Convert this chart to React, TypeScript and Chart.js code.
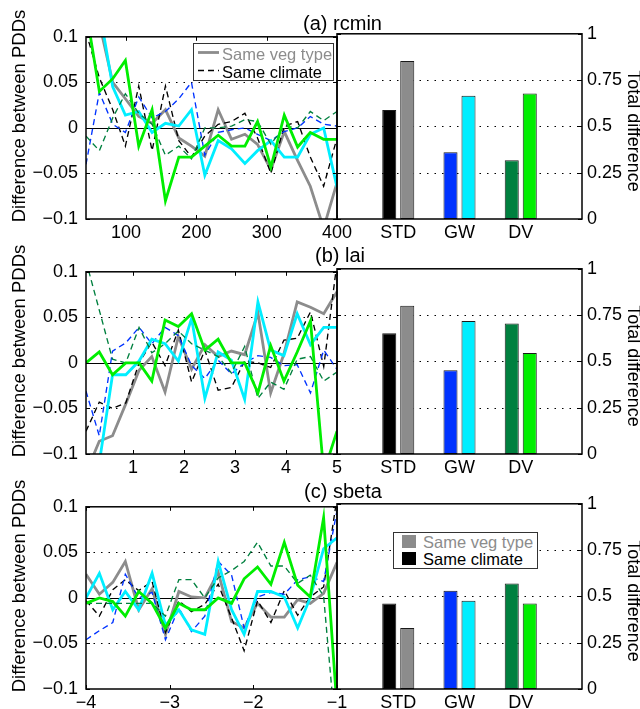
import React, { useEffect, useRef } from 'react';
import { Chart, registerables } from 'chart.js';

Chart.register(...registerables);

const FONT = '"Liberation Sans", Arial, Helvetica, sans-serif';

// ---------- colours ----------
const C_GRAY = '#8c8c8c';
const C_BLACK = '#000000';
const C_BLUE = '#0033ff';
const C_CYAN = '#00eeff';
const C_DKGREEN = '#00803f';
const C_GREEN = '#00ee00';

// ---------- tick values / labels ----------
const yDiffTicks = [-0.1, -0.05, 0, 0.05, 0.1];
const yDiffLabels = ['\u22120.1', '\u22120.05', '0', '0.05', '0.1'];
const yTotTicks = [0, 0.25, 0.5, 0.75, 1];
const yTotLabels = ['0', '0.25', '0.5', '0.75', '1'];
const barCategories = ['STD', 'GW', 'DV'];

const xRcminTicks = [100, 200, 300, 400];
const xRcminLabels = ['100', '200', '300', '400'];
const xLaiTicks = [1, 2, 3, 4, 5];
const xLaiLabels = ['1', '2', '3', '4', '5'];
const xSbetaTicks = [-4, -3, -2, -1];
const xSbetaLabels = ['\u22124', '\u22123', '\u22122', '\u22121'];

// ---------- (a) rcmin ----------
const xRcmin = [43, 62, 81, 99, 118, 137, 156, 175, 193, 212, 231, 250, 269, 287, 306, 325, 344, 362, 381, 400];
const rcminStdVeg = [0.16, 0.115, 0.05, 0.032, 0.0125, 0.005, 0.02, -0.011, -0.02, -0.031, 0.02, -0.0125, -0.007, -0.018, -0.046, -0.004, -0.036, -0.064, -0.11, -0.06];
const rcminStdClimate = [0.105, 0.055, 0.02, -0.02, 0.046, -0.025, 0.046, -0.014, -0.032, -0.009, 0.004, 0.007, 0.016, -0.011, -0.05, 0.002, 0.007, -0.032, -0.064, -0.011];
const rcminGwClimate = [-0.04, 0.039, 0.004, -0.005, 0.034, 0.011, 0.018, 0.032, 0.05, -0.03, -0.005, -0.002, 0, -0.007, -0.014, -0.004, 0, 0.0125, 0.004, 0.002];
const rcminGwVeg = [0.2, 0.13, 0.045, 0.014, 0.018, -0.005, 0.005, 0.002, 0.02, -0.052, -0.014, -0.023, -0.039, -0.025, -0.014, -0.032, -0.032, -0.007, 0, -0.065];
const rcminDvClimate = [-0.009, -0.025, 0.011, 0.0375, 0.016, 0.004, -0.03, -0.02, -0.034, 0, 0, 0.002, 0.009, 0.007, -0.018, 0.002, 0, 0.018, 0.008, 0.018];
const rcminDvVeg = [0.13, 0.04, 0.054, 0.074, -0.02, 0.02, -0.08, -0.032, -0.032, -0.02, -0.008, -0.02, -0.02, 0.007, -0.043, 0.014, -0.021, -0.005, -0.0125, -0.0125];
const rcminTotClimate = [0.588, 0.36, 0.317];
const rcminTotVeg = [0.853, 0.665, 0.677];

// ---------- (b) lai ----------
const xLai = [0.08, 0.34, 0.6, 0.86, 1.12, 1.37, 1.63, 1.89, 2.15, 2.41, 2.67, 2.93, 3.19, 3.45, 3.7, 3.96, 4.22, 4.48, 4.74, 5.0];
const laiStdVeg = [-0.121, -0.086, -0.08, -0.045, -0.008, 0.007, -0.032, 0.029, -0.007, 0.02, 0.007, 0.013, 0.009, 0.055, -0.033, 0.01, 0.067, 0.061, 0.054, 0.078];
const laiStdClimate = [-0.075, -0.043, -0.05, -0.044, 0, 0.023, -0.003, 0.036, -0.021, 0.014, -0.03, -0.027, 0.002, 0, -0.005, 0.025, 0.027, 0.056, -0.004, 0.11];
const laiGwClimate = [-0.031, -0.08, 0.013, 0.022, 0.039, 0.021, 0.039, 0.03, -0.003, -0.017, 0.003, -0.012, 0, 0.008, 0.006, -0.003, -0.002, -0.033, 0.014, -0.007];
const laiGwVeg = [-0.18, -0.11, -0.013, -0.013, 0.002, 0.026, 0.021, 0.002, 0.049, -0.039, 0.012, 0.003, -0.04, 0.067, 0.014, 0.008, 0.054, 0.02, 0.039, 0.039];
const laiDvClimate = [0.112, 0.058, 0.004, 0, 0.039, 0.011, 0.021, 0.035, 0.021, 0.014, 0.007, -0.011, 0.018, -0.039, -0.021, -0.029, 0.004, 0.007, -0.02, -0.01];
const laiDvVeg = [0, 0.012, -0.013, 0, 0, -0.02, 0.047, 0.04, 0.054, 0.014, 0.026, 0, 0, -0.033, 0.019, -0.02, 0.012, 0.046, -0.12, -0.075];
const laiTotClimate = [0.652, 0.452, 0.704];
const laiTotVeg = [0.8, 0.718, 0.546];

// ---------- (c) sbeta ----------
const xSbeta = [-4, -3.84, -3.68, -3.53, -3.37, -3.21, -3.05, -2.89, -2.74, -2.58, -2.42, -2.26, -2.11, -1.95, -1.79, -1.63, -1.47, -1.32, -1.16, -1];
const sbetaStdVeg = [0.026, 0.004, 0.017, 0.04, -0.013, 0.01, -0.04, 0.007, 0.001, 0, 0.028, -0.026, -0.033, -0.006, -0.021, -0.021, -0.002, -0.006, 0.005, 0.039];
const sbetaStdClimate = [-0.003, -0.02, 0.009, 0.02, 0.008, 0.018, -0.038, -0.003, -0.015, -0.007, 0.015, -0.022, -0.058, -0.003, -0.027, 0.008, -0.019, 0.001, 0.012, 0.11];
const sbetaGwClimate = [-0.046, -0.036, -0.027, 0.026, 0, 0.006, -0.046, -0.011, -0.037, -0.02, 0.04, 0.025, -0.033, 0.001, 0.006, 0.004, 0.02, 0.023, 0.018, 0.096];
const sbetaGwVeg = [0, 0.027, -0.013, 0.007, -0.013, 0.027, -0.03, -0.013, -0.035, -0.04, 0.04, -0.013, -0.04, 0.007, 0.007, 0.001, -0.033, 0, 0.054, 0.066];
const sbetaDvClimate = [-0.006, -0.006, -0.006, -0.006, -0.006, -0.006, -0.02, 0.02, 0.02, 0, 0.022, 0.03, 0.04, 0.061, 0.035, 0.035, 0.016, 0.025, 0.002, -0.165];
const sbetaDvVeg = [-0.006, 0, -0.004, -0.02, 0.007, -0.006, -0.033, -0.006, -0.013, -0.013, 0, -0.006, 0.021, 0.034, 0.015, 0.061, 0.014, 0.001, 0.088, -0.12];
const sbetaTotClimate = [0.462, 0.53, 0.57];
const sbetaTotVeg = [0.33, 0.477, 0.462];

// ---------- helpers ----------
type Series = { values: number[]; color: string; dashed: boolean; order: number };

function makeSeries(stdVeg: number[], stdCl: number[], gwCl: number[], gwVeg: number[], dvCl: number[], dvVeg: number[]): Series[] {
  return [
    { values: stdVeg, color: C_GRAY, dashed: false, order: 5 },
    { values: stdCl, color: C_BLACK, dashed: true, order: 4 },
    { values: gwCl, color: C_BLUE, dashed: true, order: 3 },
    { values: gwVeg, color: C_CYAN, dashed: false, order: 2 },
    { values: dvCl, color: C_DKGREEN, dashed: true, order: 1 },
    { values: dvVeg, color: C_GREEN, dashed: false, order: 0 },
  ];
}

function framePlugin(dotted: number[], zero: boolean, xTicks: number[] | null, yTicks: number[]) {
  return {
    id: 'frame',
    beforeDatasetsDraw(chart: any) {
      const { ctx, chartArea: a } = chart;
      const ys = chart.scales.y;
      ctx.save();
      ctx.strokeStyle = '#000';
      ctx.lineWidth = 1;
      ctx.setLineDash([1.5, 6]);
      dotted.forEach((v) => {
        const p = Math.round(ys.getPixelForValue(v)) + 0.5;
        ctx.beginPath();
        ctx.moveTo(a.left, p);
        ctx.lineTo(a.right, p);
        ctx.stroke();
      });
      ctx.setLineDash([]);
      if (zero) {
        const p = Math.round(ys.getPixelForValue(0)) + 0.5;
        ctx.beginPath();
        ctx.moveTo(a.left, p);
        ctx.lineTo(a.right, p);
        ctx.stroke();
      }
      ctx.restore();
    },
    afterDatasetsDraw(chart: any) {
      const { ctx, chartArea: a } = chart;
      const ys = chart.scales.y;
      const xs = chart.scales.x;
      ctx.save();
      ctx.strokeStyle = '#000';
      ctx.lineWidth = 1;
      const tl = 4;
      yTicks.forEach((v) => {
        const p = Math.round(ys.getPixelForValue(v)) + 0.5;
        ctx.beginPath();
        ctx.moveTo(a.left, p);
        ctx.lineTo(a.left + tl, p);
        ctx.moveTo(a.right, p);
        ctx.lineTo(a.right - tl, p);
        ctx.stroke();
      });
      if (xTicks) {
        xTicks.forEach((v) => {
          const p = Math.round(xs.getPixelForValue(v)) + 0.5;
          ctx.beginPath();
          ctx.moveTo(p, a.top);
          ctx.lineTo(p, a.top + tl);
          ctx.moveTo(p, a.bottom);
          ctx.lineTo(p, a.bottom - tl);
          ctx.stroke();
        });
      }
      ctx.lineWidth = 1.5;
      ctx.strokeRect(a.left, a.top, a.right - a.left, a.bottom - a.top);
      ctx.restore();
    },
  };
}

const PAD_T = 15;
const PLOT_H = 186;
const AXIS_H = 40;
const CANVAS_H = PAD_T + PLOT_H + AXIS_H;
const TICK_FONT = { family: FONT, size: 18 };

function LinePanel(props: {
  top: number;
  xs: number[];
  xMin: number;
  xMax: number;
  xTicks: number[];
  xLabels: string[];
  series: Series[];
}) {
  const ref = useRef<HTMLCanvasElement>(null);
  useEffect(() => {
    const { xs, xMin, xMax, xTicks, xLabels, series } = props;
    const chart = new Chart(ref.current as HTMLCanvasElement, {
      type: 'line',
      data: {
        datasets: series.map((s) => ({
          data: xs.map((x, i) => ({ x, y: s.values[i] })),
          borderColor: s.color,
          backgroundColor: s.color,
          borderWidth: s.dashed ? 1.35 : 2.8,
          borderDash: s.dashed ? [6, 4] : [],
          pointRadius: 0,
          tension: 0,
          fill: false,
          clip: 0,
          order: s.order,
        })) as any,
      },
      options: {
        responsive: false,
        animation: false,
        devicePixelRatio: 1,
        layout: { padding: { left: 0, top: PAD_T, right: 33, bottom: 0 } },
        plugins: { legend: { display: false }, tooltip: { enabled: false } },
        scales: {
          x: {
            type: 'linear',
            min: xMin,
            max: xMax,
            grid: { display: false, drawTicks: false },
            border: { display: false },
            afterBuildTicks: (s: any) => {
              s.ticks = xTicks.map((v) => ({ value: v }));
            },
            afterFit: (s: any) => {
              s.height = AXIS_H;
            },
            ticks: {
              callback: (_v: any, i: number) => xLabels[i],
              padding: 3,
              maxRotation: 0,
              autoSkip: false,
              color: '#000',
              font: TICK_FONT,
            },
          },
          y: {
            type: 'linear',
            min: -0.1,
            max: 0.1,
            grid: { display: false, drawTicks: false },
            border: { display: false },
            afterBuildTicks: (s: any) => {
              s.ticks = yDiffTicks.map((v) => ({ value: v }));
            },
            afterFit: (s: any) => {
              s.width = 86;
            },
            ticks: {
              callback: (_v: any, i: number) => yDiffLabels[i],
              padding: 8,
              autoSkip: false,
              color: '#000',
              font: TICK_FONT,
            },
          },
        },
      } as any,
      plugins: [framePlugin([-0.05, 0.05], true, xTicks, yDiffTicks)],
    });
    return () => chart.destroy();
  }, []);
  return (
    <canvas
      ref={ref}
      width={370}
      height={CANVAS_H}
      style={{ position: 'absolute', left: 0, top: props.top - PAD_T, width: 370, height: CANVAS_H }}
    />
  );
}

function BarPanel(props: { top: number; climate: number[]; veg: number[] }) {
  const ref = useRef<HTMLCanvasElement>(null);
  useEffect(() => {
    const { climate, veg } = props;
    const none = 'rgba(0,0,0,0)';
    const chart = new Chart(ref.current as HTMLCanvasElement, {
      type: 'bar',
      data: {
        labels: ['', ...barCategories, ''],
        datasets: [
          {
            data: [null, ...climate, null],
            backgroundColor: [none, C_BLACK, C_BLUE, C_DKGREEN, none],
            borderColor: '#1a1a1a',
            borderWidth: 1,
            borderSkipped: false,
            barPercentage: 0.78,
            categoryPercentage: 0.588,
          },
          {
            data: [null, ...veg, null],
            backgroundColor: [none, C_GRAY, C_CYAN, C_GREEN, none],
            borderColor: '#1a1a1a',
            borderWidth: 1,
            borderSkipped: false,
            barPercentage: 0.78,
            categoryPercentage: 0.588,
          },
        ] as any,
      },
      options: {
        responsive: false,
        animation: false,
        devicePixelRatio: 1,
        layout: { padding: { left: 37, top: PAD_T, right: 0, bottom: 0 } },
        plugins: { legend: { display: false }, tooltip: { enabled: false } },
        scales: {
          x: {
            type: 'category',
            offset: false,
            grid: { display: false, drawTicks: false },
            border: { display: false },
            afterFit: (s: any) => {
              s.height = AXIS_H;
            },
            ticks: { padding: 3, maxRotation: 0, autoSkip: false, color: '#000', font: TICK_FONT },
          },
          y: {
            type: 'linear',
            position: 'right',
            min: 0,
            max: 1,
            grid: { display: false, drawTicks: false },
            border: { display: false },
            afterBuildTicks: (s: any) => {
              s.ticks = yTotTicks.map((v) => ({ value: v }));
            },
            afterFit: (s: any) => {
              s.width = 58;
            },
            ticks: {
              callback: (_v: any, i: number) => yTotLabels[i],
              padding: 5,
              autoSkip: false,
              color: '#000',
              font: TICK_FONT,
            },
          },
        },
      } as any,
      plugins: [framePlugin([0.25, 0.5, 0.75], false, null, yTotTicks)],
    });
    return () => chart.destroy();
  }, []);
  return (
    <canvas
      ref={ref}
      width={340}
      height={CANVAS_H}
      style={{ position: 'absolute', left: 300, top: props.top - PAD_T, width: 340, height: CANVAS_H }}
    />
  );
}

function Title(props: { text: string; cx: number; baseline: number }) {
  const size = 20;
  return (
    <div
      style={{
        position: 'absolute',
        left: props.cx,
        top: props.baseline - 0.8465 * size,
        transform: 'translateX(-50%)',
        fontFamily: FONT,
        fontSize: size,
        lineHeight: 1,
        whiteSpace: 'nowrap',
        color: '#000',
      }}
    >
      {props.text}
    </div>
  );
}

function RotLabel(props: { text: string; cx: number; cy: number; deg: number; size: number }) {
  return (
    <div
      style={{
        position: 'absolute',
        left: props.cx,
        top: props.cy,
        transform: `translate(-50%, -50%) rotate(${props.deg}deg)`,
        fontFamily: FONT,
        fontSize: props.size,
        lineHeight: 1,
        whiteSpace: 'nowrap',
        color: '#000',
      }}
    >
      {props.text}
    </div>
  );
}

const legendText = { position: 'absolute' as const, fontFamily: FONT, fontSize: 16.5, lineHeight: 1, whiteSpace: 'nowrap' as const };

function LineLegend() {
  return (
    <div
      style={{
        position: 'absolute',
        left: 193,
        top: 43,
        width: 139,
        height: 36,
        background: '#fff',
        border: '1px solid #333',
      }}
    >
      <svg width={24} height={36} style={{ position: 'absolute', left: 3, top: 0 }}>
        <line x1={1} y1={8.5} x2={22} y2={8.5} stroke={C_GRAY} strokeWidth={2.8} />
        <line x1={1} y1={26.5} x2={22} y2={26.5} stroke={C_BLACK} strokeWidth={1.35} strokeDasharray="6 4" />
      </svg>
      <div style={{ ...legendText, left: 28, top: 1.5, color: C_GRAY }}>Same veg type</div>
      <div style={{ ...legendText, left: 28, top: 19.5, color: '#000' }}>Same climate</div>
    </div>
  );
}

function BarLegend() {
  return (
    <div
      style={{
        position: 'absolute',
        left: 393,
        top: 532,
        width: 143,
        height: 35,
        background: '#fff',
        border: '1px solid #333',
      }}
    >
      <div style={{ position: 'absolute', left: 8, top: 2, width: 14, height: 13, background: C_GRAY }} />
      <div style={{ position: 'absolute', left: 8, top: 19, width: 14, height: 13, background: C_BLACK }} />
      <div style={{ ...legendText, left: 29, top: 1, color: C_GRAY }}>Same veg type</div>
      <div style={{ ...legendText, left: 29, top: 17.5, color: '#000' }}>Same climate</div>
    </div>
  );
}

export default function App() {
  const tops = [33, 268, 503];
  const centers = tops.map((t) => t + PLOT_H / 2);
  return (
    <div style={{ position: 'absolute', left: 0, top: 0, width: 640, height: 709, overflow: 'hidden', background: '#fff' }}>
      <LinePanel
        top={tops[0]}
        xs={xRcmin}
        xMin={43}
        xMax={400}
        xTicks={xRcminTicks}
        xLabels={xRcminLabels}
        series={makeSeries(rcminStdVeg, rcminStdClimate, rcminGwClimate, rcminGwVeg, rcminDvClimate, rcminDvVeg)}
      />
      <BarPanel top={tops[0]} climate={rcminTotClimate} veg={rcminTotVeg} />
      <LinePanel
        top={tops[1]}
        xs={xLai}
        xMin={0.08}
        xMax={5}
        xTicks={xLaiTicks}
        xLabels={xLaiLabels}
        series={makeSeries(laiStdVeg, laiStdClimate, laiGwClimate, laiGwVeg, laiDvClimate, laiDvVeg)}
      />
      <BarPanel top={tops[1]} climate={laiTotClimate} veg={laiTotVeg} />
      <LinePanel
        top={tops[2]}
        xs={xSbeta}
        xMin={-4}
        xMax={-1}
        xTicks={xSbetaTicks}
        xLabels={xSbetaLabels}
        series={makeSeries(sbetaStdVeg, sbetaStdClimate, sbetaGwClimate, sbetaGwVeg, sbetaDvClimate, sbetaDvVeg)}
      />
      <BarPanel top={tops[2]} climate={sbetaTotClimate} veg={sbetaTotVeg} />

      <Title text="(a) rcmin" cx={342.5} baseline={29.5} />
      <Title text="(b) lai" cx={340} baseline={261.5} />
      <Title text="(c) sbeta" cx={343} baseline={497.5} />

      {centers.map((c, i) => (
        <RotLabel key={'l' + i} text="Difference between PDDs" cx={18.5} cy={c - 10} deg={-90} size={18.5} />
      ))}
      {centers.map((c, i) => (
        <RotLabel key={'r' + i} text="Total difference" cx={634} cy={c + 5} deg={90} size={18} />
      ))}

      <LineLegend />
      <BarLegend />
    </div>
  );
}
